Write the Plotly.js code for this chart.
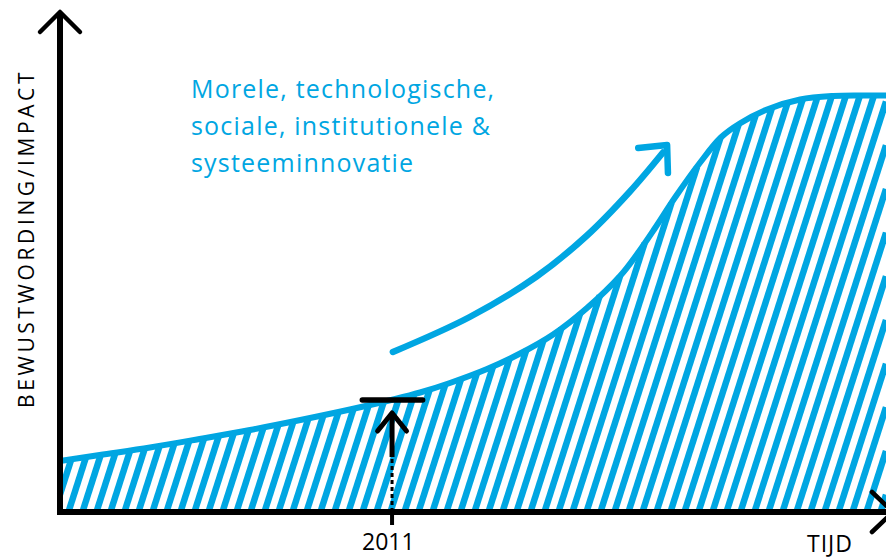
<!DOCTYPE html>
<html>
<head>
<meta charset="utf-8">
<script src="https://cdn.plot.ly/plotly-3.0.1.min.js"></script>
<style>html,body{margin:0;padding:0;background:#fff;}#chart{width:886px;height:558px;}</style>
</head>
<body>
<div id="chart"></div>
<script>
// ---- data (arbitrary units: time 0..100, impact 0..100) ----
const timeX   = [0, 4.8, 10.9, 16.9, 23.0, 29.1, 35.1, 40.6, 43.6, 47.2, 51.7, 55.7, 59.7, 63.8, 67.8, 70.0, 72.0, 74.5, 77.5, 80.0, 82.3, 85.6, 89.6, 93.6, 96.9, 100];
const impactY = [10.2, 11.4, 12.9, 14.6, 16.4, 18.4, 20.5, 22.6, 23.9, 25.8, 28.6, 31.7, 35.5, 40.8, 47.2, 51.9, 56.7, 63.0, 69.9, 74.9, 77.7, 80.5, 82.5, 83.2, 83.3, 83.3];
const milestoneX = 40.2;          // 2011 on the time axis
const milestoneY = 22.4;          // level of the curve at 2011
const milestoneLabel = '2011';
const trendX = [40.3, 49.6, 57.7, 63.8, 69.0, 73.0];   // innovation arrow path
const trendY = [32.0, 39.0, 47.1, 55.3, 64.1, 71.9];
const xTitle = 'TIJD';
const yTitle = 'BEWUSTWORDING/IMPACT';
const noteLines = ['Morele, technologische,', 'sociale, institutionele &', 'systeeminnovatie'];

const BLUE = '#00a6e2';
const BLACK = '#000000';

// ---- hatching derived from the curve ----
function curveAt(x){
  if (x <= timeX[0]) return impactY[0];
  if (x >= timeX[timeX.length-1]) return impactY[impactY.length-1];
  for (let i=1;i<timeX.length;i++){
    if (x <= timeX[i]){
      const f=(x-timeX[i-1])/(timeX[i]-timeX[i-1]);
      return impactY[i-1]+f*(impactY[i]-impactY[i-1]);
    }
  }
}
const slant = 0.194, period = 1.695;
const hx=[], hy=[];
for (let x0=-60; x0<100; x0+=period){
  let tS = x0<0 ? -x0/slant : 0;
  if (tS >= curveAt(0)) continue;
  const xs = x0+tS*slant;
  if (xs >= 100) continue;
  let lo=tS, hi=120;
  for (let it=0; it<50; it++){
    const m=(lo+hi)/2;
    if (curveAt(x0+m*slant)-m > 0) lo=m; else hi=m;
  }
  let tT=lo, xT=x0+tT*slant;
  if (xT>100){ tT=(100-x0)/slant; xT=100; }
  hx.push(xs, xT, null); hy.push(tS, tT, null);
}

const traces = [];
const caps = [];
function add(t, cap){ traces.push(Object.assign({type:'scatter', mode:'lines', hoverinfo:'skip', showlegend:false}, t)); caps.push(cap); }

add({x:hx, y:hy, line:{color:BLUE, width:6.5}}, 'butt');
add({x:timeX, y:impactY, line:{color:BLUE, width:6, shape:'spline', smoothing:1}}, 'round');
// innovation arrow
add({x:trendX, y:trendY, line:{color:BLUE, width:6.5, shape:'spline', smoothing:1}}, 'round');
add({x:[70.0, 73.5, 73.6], y:[72.8, 73.4, 67.8], line:{color:BLUE, width:6.5}}, 'round');
// 2011 marker
add({x:[milestoneX, milestoneX], y:[0, 11], line:{color:BLACK, width:3, dash:'4px,3px'}}, 'butt');
add({x:[milestoneX, milestoneX], y:[11, 19.6], line:{color:BLACK, width:5}}, 'butt');
add({x:[milestoneX-1.75, milestoneX, milestoneX+1.75], y:[16.2, 19.8, 16.2], line:{color:BLACK, width:5}}, 'round');
add({x:[milestoneX-3.6, milestoneX+3.7], y:[milestoneY, milestoneY], line:{color:BLACK, width:5.5}}, 'round');
add({x:[milestoneX, milestoneX], y:[0, -2.6], line:{color:BLACK, width:4}}, 'butt');
// axes
add({x:[0, 0], y:[-0.6, 100], line:{color:BLACK, width:6}}, 'butt');
add({x:[-2.42, 0, 2.42], y:[96, 100, 96], line:{color:BLACK, width:4.5}}, 'round');
add({x:[-0.36, 100.9], y:[0, 0], line:{color:BLACK, width:6}}, 'butt');
add({x:[98.3, 100.85, 98.3], y:[4, 0, -4], line:{color:BLACK, width:4.5}}, 'round');

const FONT = 'Open Sans, Noto Sans, sans-serif';
const annotations = [];
const spacing = [];
noteLines.forEach((s,i)=>{
  annotations.push({xref:'paper', yref:'paper', x:189/886, y:1-(88+37*i)/558, xanchor:'left', yanchor:'middle', align:'left',
    text:s, showarrow:false, font:{family:FONT, size:25, color:BLUE}});
  spacing.push('1.2px');
});
annotations.push({xref:'paper', yref:'paper', x:388/886, y:1-541/558, xanchor:'center', yanchor:'middle',
  text:milestoneLabel, showarrow:false, font:{family:FONT, size:23, color:BLACK}});
spacing.push('0px');
annotations.push({xref:'paper', yref:'paper', x:830/886, y:1-543/558, xanchor:'center', yanchor:'middle',
  text:xTitle, showarrow:false, font:{family:FONT, size:23, color:BLACK}});
spacing.push('1px');
annotations.push({xref:'paper', yref:'paper', x:26/886, y:1-239/558, xanchor:'center', yanchor:'middle', textangle:-90,
  text:yTitle, showarrow:false, font:{family:FONT, size:21, color:BLACK}});
spacing.push('3.6px');

const layout = {
  width:886, height:558, margin:{l:0,r:0,t:0,b:0,pad:0},
  paper_bgcolor:'#fff', plot_bgcolor:'#fff', showlegend:false,
  xaxis:{range:[-7.264, 100], visible:false, fixedrange:true},
  yaxis:{range:[-9.2, 102.4], visible:false, fixedrange:true},
  annotations:annotations
};
Plotly.newPlot('chart', traces, layout, {staticPlot:true, displayModeBar:false}).then(()=>{
  document.querySelectorAll('.scatterlayer .trace').forEach((g,i)=>{
    g.querySelectorAll('path.js-line').forEach(p=>{ p.style.strokeLinecap = caps[i]; p.style.strokeLinejoin='round'; });
  });
  document.querySelectorAll('.annotation').forEach((a,i)=>{
    a.querySelectorAll('text').forEach(t=>{ t.style.letterSpacing = spacing[i]; });
  });
});
</script>
</body>
</html>
